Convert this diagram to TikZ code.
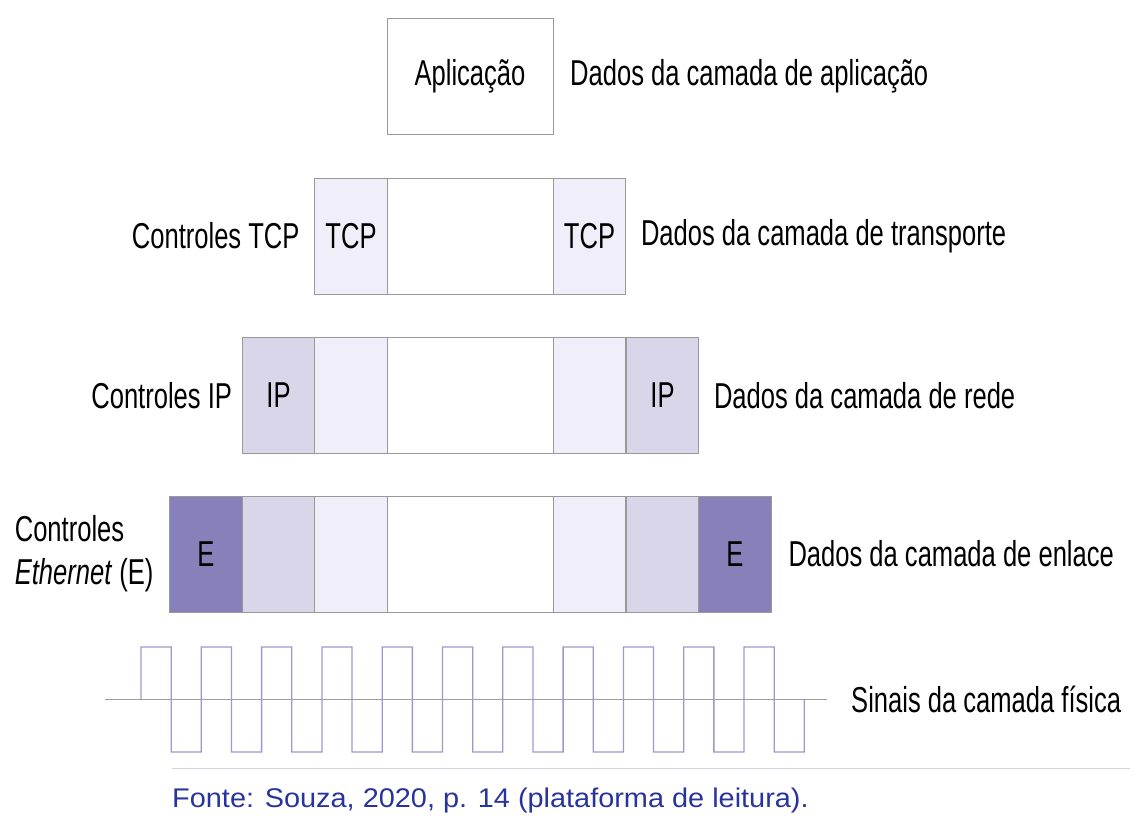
\documentclass[tikz,border=0pt]{standalone}
\usepackage{fontspec}
\setmainfont{Liberation Sans}[FakeStretch=0.71]
\newfontfamily\fontefont{Liberation Sans}[FakeStretch=1.07]
\usepackage{tikz}
\usetikzlibrary{positioning}

\definecolor{lightpk}{RGB}{240,239,249}
\definecolor{midpk}{RGB}{217,214,234}
\definecolor{darkpk}{RGB}{136,128,184}
\definecolor{signalc}{RGB}{156,152,204}
\definecolor{fontec}{RGB}{40,52,158}

\tikzset{
  seg/.style={draw=black!40, line width=0.9pt, minimum width=72.6pt, minimum height=116pt, inner sep=0pt, outer sep=0pt, font=\fontsize{36}{40}\selectfont},
  lbl/.style={inner sep=0pt, font=\fontsize{36}{43}\selectfont},
}

\begin{document}
\begin{tikzpicture}[x=1pt, y=-1pt]
        \useasboundingbox (0,0) rectangle (1139,824);
        % camada de aplicacao
        \node[seg, minimum width=166pt] (App) at (470,76.5) {Aplica\c{c}\~ao};
        \node[lbl, right=17pt of App] (AppTxt) {Dados da camada de aplica\c{c}\~ao};
        % camada de transporte
        \node[seg, fill=lightpk] (TcpL) at (351,236) {TCP};
        \node[seg, minimum width=166pt] (TcpD) at (470,236) {};
        \node[seg, fill=lightpk] (TcpR) at (589.5,236) {TCP};
        \node[lbl, left=15pt of TcpL] (TcpCtl) {Controles TCP};
        \node[lbl, right=15pt of TcpR] (TcpTxt) {Dados da camada de transporte};
        % camada de rede
        \node[seg, fill=midpk] (IpL) at (278.5,395.5) {IP};
        \node[seg, fill=lightpk] (IpTl) at (351,395.5) {};
        \node[seg, minimum width=166pt] (IpD) at (470,395.5) {};
        \node[seg, fill=lightpk] (IpTr) at (589.5,395.5) {};
        \node[seg, fill=midpk] (IpR) at (662.5,395.5) {IP};
        \node[lbl, left=10pt of IpL] (IpCtl) {Controles IP};
        \node[lbl, right=15pt of IpR] (IpTxt) {Dados da camada de rede};
        % camada de enlace
        \node[seg, fill=darkpk] (EL) at (206,554) {E};
        \node[seg, fill=midpk] (EIpl) at (278.5,554) {};
        \node[seg, fill=lightpk] (ETl) at (351,554) {};
        \node[seg, minimum width=166pt] (ED) at (470,554) {};
        \node[seg, fill=lightpk] (ETr) at (589.5,554) {};
        \node[seg, fill=midpk] (EIpr) at (662.5,554) {};
        \node[seg, fill=darkpk] (ER) at (735,554) {E};
        \node[lbl, align=left, left=16pt of EL] (ECtl) {Controles\\\textit{Ethernet} (E)};
        \node[lbl, right=17pt of ER] (ETxt) {Dados da camada de enlace};
        % camada fisica
        \coordinate (SigA) at (105,699);
        \coordinate (SigB) at (827,699);
        \draw[black!38, line width=1pt] (SigA) -- (SigB);
        \draw[signalc, line width=1.3pt] (141,699)
          foreach \i in {0,...,10} { -- ({141+60.3*\i},647) -- ({171.15+60.3*\i},647)
            -- ({171.15+60.3*\i},752) -- ({201.3+60.3*\i},752) } -- (804.3,699);
        \node[lbl, right=24pt of SigB] (SigTxt) {Sinais da camada f\'isica};
        % fonte
        \coordinate (FonteA) at (172,768);
        \coordinate (FonteB) at (1130,768);
        \draw[signalc!45, line width=1pt] (FonteA) -- (FonteB);
        \node[inner sep=0pt, anchor=west, text=fontec, font=\fontefont\fontsize{27}{30}\selectfont] (Fonte) at (172,801) {Fonte: Souza, 2020, p. 14 (plataforma de leitura).};
    \end{tikzpicture}
\end{document}
